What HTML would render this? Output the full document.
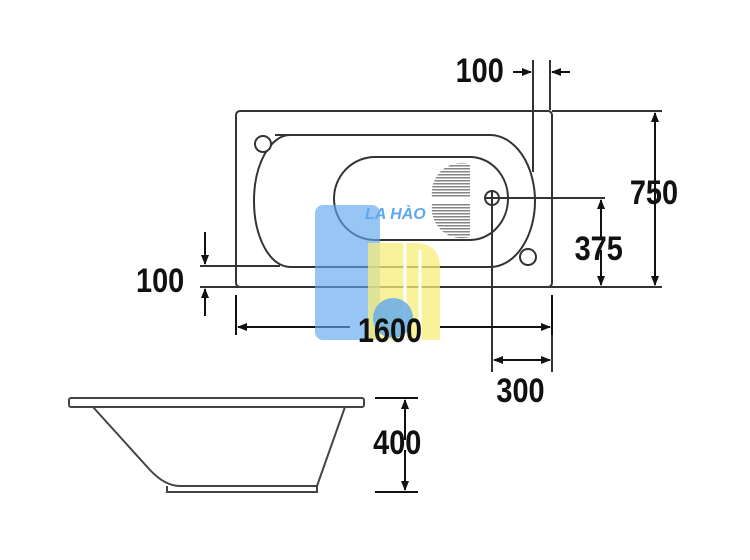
<!DOCTYPE html>
<html><head><style>body{margin:0;background:#fff}svg{display:block}text{font-family:"Liberation Sans",sans-serif;font-weight:bold;font-size:34px;fill:#111}</style></head><body>
<svg width="750" height="560" viewBox="0 0 750 560" xmlns="http://www.w3.org/2000/svg">
<defs><marker id="a" markerWidth="10" markerHeight="8" refX="9" refY="4" orient="auto" markerUnits="userSpaceOnUse"><path d="M0,0L10,4L0,8z" fill="#111"/></marker>
<pattern id="h" width="3" height="3" patternUnits="userSpaceOnUse"><rect width="3" height="1.5" fill="#666"/></pattern></defs>
<g fill="none" stroke="#333" stroke-width="2">
<rect x="236" y="111" width="316" height="176" rx="4"/>
<path d="M552 111H662M200 287H662M200 266H280"/>
<path d="M275 135H490A45 66 0 0 1 490 267H290A36 66 0 0 1 290 135Z"/>
<circle cx="263" cy="144" r="8" fill="#fff"/>
<circle cx="528" cy="257" r="8" fill="#fff"/>
<path d="M375 157H470A38 41.5 0 0 1 470 240H375A41 41.5 0 0 1 375 157Z"/>
<circle cx="492" cy="198" r="7"/>
<path d="M484 198H605M492 190V372M533 60V172M550 60V110M552 295V372"/>
</g>
<path d="M470 164A30 30 0 0 0 432 197H470Z" fill="url(#h)" opacity=".8"/>
<path d="M470 237A30 30 0 0 1 432 204H470Z" fill="url(#h)" opacity=".8"/>
<g stroke="#111" stroke-width="2" fill="none">
<path d="M513 72H531" marker-end="url(#a)"/><path d="M570 72H552" marker-end="url(#a)"/>
<path d="M655 200V113" marker-end="url(#a)"/><path d="M655 200V285" marker-end="url(#a)"/>
<path d="M601 240V200" marker-end="url(#a)"/><path d="M601 250V285" marker-end="url(#a)"/>
<path d="M205 232V264" marker-end="url(#a)"/><path d="M205 316V289" marker-end="url(#a)"/>
<path d="M236 295V335M552 295V335"/>
<path d="M350 327H238" marker-end="url(#a)"/><path d="M440 327H550" marker-end="url(#a)"/>
<path d="M520 360H494" marker-end="url(#a)"/><path d="M520 360H550" marker-end="url(#a)"/>
<path d="M375 398H418M375 492H418"/>
<path d="M405 440V400" marker-end="url(#a)"/><path d="M405 450V490" marker-end="url(#a)"/>
</g>
<g fill="none" stroke="#444" stroke-width="2">
<rect x="69" y="398" width="295" height="9" rx="2"/>
<path d="M93 407L150 470Q165 486 180 486H317L345 407"/>
<path d="M167 486V492H317V486"/>
</g>
<rect x="315" y="205" width="65" height="135" rx="8" fill="#5fa8ee" opacity=".65"/>
<path d="M368 243H415Q440 243 440 268V340H368Z" fill="#f7ee7a" opacity=".75"/>
<path d="M405 243V340M420 250V340" stroke="#fff" stroke-width="3"/>
<circle cx="393" cy="318" r="20" fill="#5fa8ee" opacity=".8"/>
<text x="365" y="219" style="font-size:16px;font-style:italic;fill:#5fa8ee">LA HÀO</text>
<g transform="scale(0.85,1)">
<text x="536" y="82">100</text>
<text x="741" y="204">750</text>
<text x="676" y="260">375</text>
<text x="160" y="292">100</text>
<text x="421" y="342">1600</text>
<text x="584" y="402">300</text>
<text x="439" y="454">400</text>
</g>
</svg>
</body></html>
